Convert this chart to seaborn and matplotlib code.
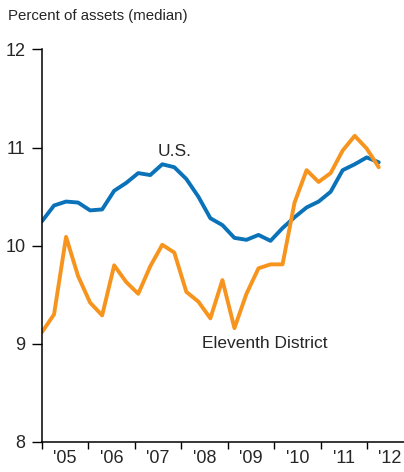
import numpy as np
import pandas as pd
import seaborn as sns
import matplotlib.pyplot as plt
from matplotlib import font_manager

# Quarterly values, 2005:Q1 - 2012:Q1 (percent of assets, median)
quarters = pd.period_range('2005Q1', '2012Q1', freq='Q').astype(str).tolist()
us = [10.25, 10.41, 10.45, 10.44, 10.36, 10.37, 10.56, 10.64, 10.74, 10.72,
      10.83, 10.80, 10.68, 10.50, 10.28, 10.21, 10.08, 10.06, 10.11, 10.05,
      10.18, 10.29, 10.39, 10.45, 10.55, 10.77, 10.83, 10.90, 10.85]
eleventh = [9.12, 9.30, 10.09, 9.69, 9.42, 9.29, 9.80, 9.63, 9.51, 9.79,
            10.01, 9.93, 9.53, 9.43, 9.26, 9.65, 9.16, 9.51, 9.77, 9.81,
            9.81, 10.44, 10.77, 10.65, 10.74, 10.97, 11.12, 10.99, 10.80]
year_labels = ["'05", "'06", "'07", "'08", "'09", "'10", "'11", "'12"]

df = pd.DataFrame({'quarter': quarters, 'U.S.': us, 'Eleventh District': eleventh})
df['t'] = np.arange(len(df))

# condensed font if there is one, else plain Liberation Sans
names = {f.name for f in font_manager.fontManager.ttflist}
if 'Liberation Sans Narrow' in names:
    fam, fs, fs_tick, fs_title = 'Liberation Sans Narrow', 14, 14, 12.3
else:
    fam, fs, fs_tick, fs_title = 'Liberation Sans', 12.5, 13, 10.8

sns.set_style('ticks')
plt.rcParams['font.family'] = [fam, 'DejaVu Sans']

fig = plt.figure(figsize=(4.04, 4.72), dpi=100)
ax = fig.add_axes([0.104, 0.0636, 0.896, 0.8316])

sns.lineplot(data=df, x='t', y='U.S.', color='#0A72B8', linewidth=2.8, ax=ax)
sns.lineplot(data=df, x='t', y='Eleventh District', color='#F7941D', linewidth=2.8, ax=ax)

ax.set_xlim(0, 30.1)
ax.set_ylim(8, 12)
ax.set_yticks([8, 9, 10, 11, 12])
ax.set_xlabel('')
ax.set_ylabel('')

# year ticks (slightly tighter than 4 quarters, as in the original)
step = 3.86
ax.set_xticks(np.arange(8) * step)
ax.set_xticklabels([])
ax.set_xticks((np.arange(8) + 0.5) * step, minor=True)
ax.set_xticklabels(year_labels, minor=True)
ax.tick_params(axis='x', which='major', length=5, width=1, color='black')
ax.tick_params(axis='x', which='minor', length=0, labelsize=fs_tick, pad=6)
ax.tick_params(axis='y', length=7, width=1, color='black', labelsize=fs_tick, pad=5)

for side in ['top', 'right']:
    ax.spines[side].set_visible(False)
for side in ['left', 'bottom']:
    ax.spines[side].set_linewidth(1.1)
    ax.spines[side].set_color('black')

ax.text(9.6, 10.88, 'U.S.', fontsize=fs, ha='left', va='bottom')
ax.text(13.3, 9.0, 'Eleventh District', fontsize=fs, ha='left', va='center')
fig.text(0.02, 0.966, 'Percent of assets (median)', fontsize=fs_title, ha='left', va='center')

plt.savefig('out.png', dpi=100)
